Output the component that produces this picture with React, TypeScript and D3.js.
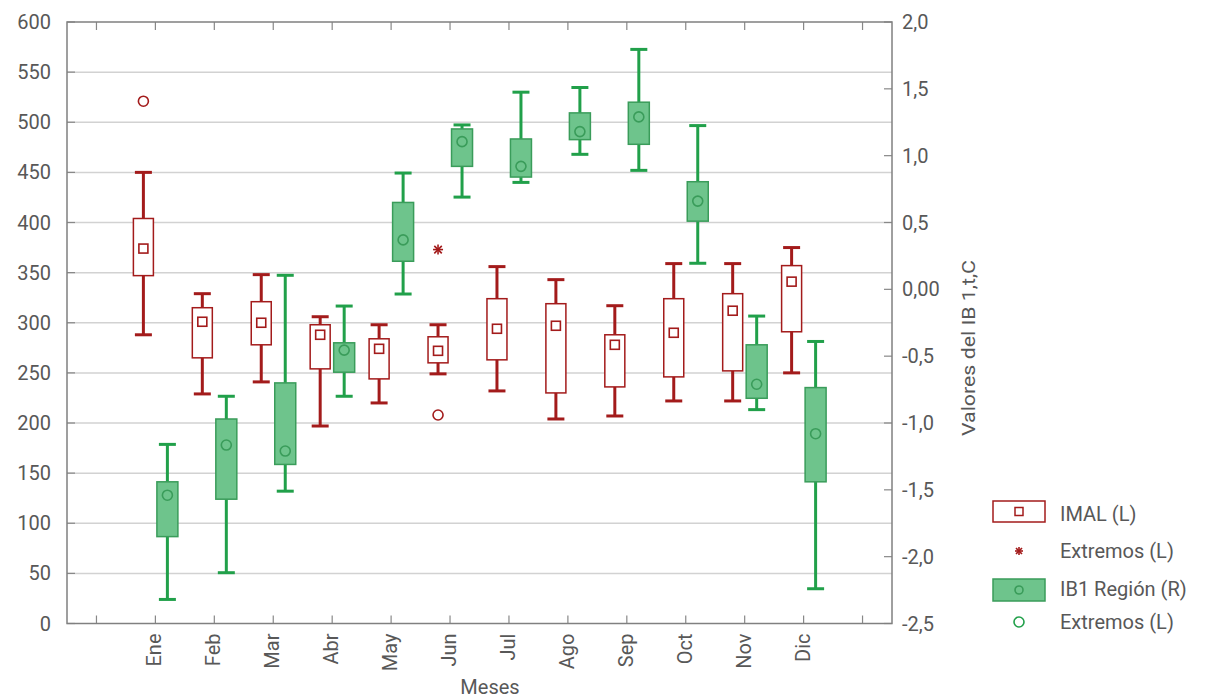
import React from 'react';
import * as d3 from 'd3';

const months = ['Ene', 'Feb', 'Mar', 'Abr', 'May', 'Jun', 'Jul', 'Ago', 'Sep', 'Oct', 'Nov', 'Dic'];

// IMAL (left axis)
const imalLow = [288, 229, 241, 197, 220, 249, 232, 204, 207, 222, 222, 250];
const imalQ1 = [347, 265, 278, 254, 244, 260, 263, 230, 236, 246, 252, 291];
const imalMean = [374, 301, 300, 288, 274, 272, 294, 297, 278, 290, 312, 341];
const imalQ3 = [404, 315, 321, 298, 284, 286, 324, 319, 288, 324, 329, 357];
const imalHigh = [450, 329, 348, 306, 298, 298, 356, 343, 317, 359, 359, 375];
const imalOutMonths = ['Ene', 'Jun'];
const imalOutValues = [521, 208];
const imalExtMonths = ['Jun'];
const imalExtValues = [373];

// IB1 Región (right axis)
const ibLow = [-2.32, -2.12, -1.51, -0.8, -0.035, 0.69, 0.8, 1.01, 0.89, 0.195, -0.9, -2.24];
const ibQ1 = [-1.85, -1.57, -1.31, -0.62, 0.21, 0.92, 0.84, 1.12, 1.085, 0.51, -0.815, -1.44];
const ibMean = [-1.54, -1.165, -1.21, -0.455, 0.37, 1.105, 0.92, 1.18, 1.29, 0.66, -0.71, -1.08];
const ibQ3 = [-1.44, -0.97, -0.7, -0.4, 0.65, 1.2, 1.125, 1.32, 1.4, 0.805, -0.415, -0.735];
const ibHigh = [-1.16, -0.8, 0.105, -0.125, 0.87, 1.23, 1.475, 1.51, 1.795, 1.225, -0.2, -0.39];

const leftTicks = [0, 50, 100, 150, 200, 250, 300, 350, 400, 450, 500, 550, 600];
const rightTicks = [2.0, 1.5, 1.0, 0.5, 0.0, -0.5, -1.0, -1.5, -2.0, -2.5];
const rightTickLabels = ['2,0', '1,5', '1,0', '0,5', '0,00', '-0,5', '-1,0', '-1,5', '-2,0', '-2,5'];

const W = 1216;
const H = 699;
const m = { left: 67, right: 892, top: 22, bottom: 623.5 };

const RED = '#a31b1b';
const GREEN = '#21a04a';
const GFILL = '#6ec48c';
const GSTROKE = '#3a9c5a';
const TXT = '#585858';
const FONT = 'Roboto, "Noto Sans", sans-serif';

const Star = ({ x, y, s = 4.5, color }: { x: number; y: number; s?: number; color: string }) => (
  <g stroke={color} strokeWidth={1.6}>
    <line x1={x - s} x2={x + s} y1={y} y2={y} />
    <line x1={x} x2={x} y1={y - s} y2={y + s} />
    <line x1={x - s * 0.75} x2={x + s * 0.75} y1={y - s * 0.75} y2={y + s * 0.75} />
    <line x1={x - s * 0.75} x2={x + s * 0.75} y1={y + s * 0.75} y2={y - s * 0.75} />
  </g>
);

export default function App() {
  const x = d3.scaleLinear().domain([-0.5, 13.5]).range([m.left, m.right]);
  const yL = d3.scaleLinear().domain([0, 600]).range([m.bottom, m.top]);
  const yR = d3.scaleLinear().domain([-2.5, 2.0]).range([m.bottom, m.top]);
  const xTicks = d3.range(0, 14);
  const off = 12;
  const bw = 20;
  const cap = 8.5;

  return (
    <svg width={W} height={H} style={{ position: 'absolute', left: 0, top: 0, background: '#fff' }} fontFamily={FONT}>
      {/* grid */}
      {leftTicks.filter(t => t > 0 && t < 600).map(t => (
        <line key={'g' + t} x1={m.left} x2={m.right} y1={yL(t)} y2={yL(t)} stroke="#d2d2d2" strokeWidth={1.5} />
      ))}
      {/* left ticks + labels */}
      {leftTicks.map(t => (
        <g key={'l' + t}>
          <line x1={m.left} x2={m.left + 8} y1={yL(t)} y2={yL(t)} stroke="#888" strokeWidth={1.2} />
          <text x={51} y={yL(t)} dy="0.35em" textAnchor="end" fontSize={20} fill={TXT}>{t}</text>
        </g>
      ))}
      {/* right ticks + labels */}
      {rightTicks.map((t, i) => (
        <g key={'r' + i}>
          <line x1={m.right - 8} x2={m.right} y1={yR(t)} y2={yR(t)} stroke="#888" strokeWidth={1.2} />
          <text x={902} y={yR(t)} dy="0.35em" textAnchor="start" fontSize={20} fill={TXT}>{rightTickLabels[i]}</text>
        </g>
      ))}
      {/* x ticks top & bottom */}
      {xTicks.map(t => (
        <g key={'x' + t}>
          <line x1={x(t)} x2={x(t)} y1={m.top} y2={m.top + 8} stroke="#888" strokeWidth={1.2} />
          <line x1={x(t)} x2={x(t)} y1={m.bottom} y2={m.bottom - 8} stroke="#888" strokeWidth={1.2} />
        </g>
      ))}
      {months.map((mo, i) => (
        <text key={'ml' + mo} transform={`translate(${x(i + 1) + 6},${m.bottom + 10}) rotate(-90)`}
          textAnchor="end" fontSize={20} fill={TXT}>{mo}</text>
      ))}

      {/* IMAL boxes */}
      {months.map((mo, i) => {
        const cx = x(i + 1) - off;
        return (
          <g key={'imal' + mo}>
            <line x1={cx} x2={cx} y1={yL(imalHigh[i])} y2={yL(imalQ3[i])} stroke={RED} strokeWidth={3} />
            <line x1={cx} x2={cx} y1={yL(imalQ1[i])} y2={yL(imalLow[i])} stroke={RED} strokeWidth={3} />
            <line x1={cx - cap} x2={cx + cap} y1={yL(imalHigh[i])} y2={yL(imalHigh[i])} stroke={RED} strokeWidth={3} />
            <line x1={cx - cap} x2={cx + cap} y1={yL(imalLow[i])} y2={yL(imalLow[i])} stroke={RED} strokeWidth={3} />
            <rect x={cx - bw / 2} y={yL(imalQ3[i])} width={bw} height={yL(imalQ1[i]) - yL(imalQ3[i])}
              fill="#fff" stroke={RED} strokeWidth={1.5} />
            <rect x={cx - 4.5} y={yL(imalMean[i]) - 4.5} width={9} height={9} fill="none" stroke={RED} strokeWidth={1.6} />
          </g>
        );
      })}
      {imalOutMonths.map((mo, i) => (
        <circle key={'o' + i} cx={x(months.indexOf(mo) + 1) - off} cy={yL(imalOutValues[i])} r={5}
          fill="#fff" stroke={RED} strokeWidth={1.6} />
      ))}
      {imalExtMonths.map((mo, i) => (
        <Star key={'s' + i} x={x(months.indexOf(mo) + 1) - off} y={yL(imalExtValues[i])} s={5} color={RED} />
      ))}

      {/* IB1 boxes */}
      {months.map((mo, i) => {
        const cx = x(i + 1) + off;
        return (
          <g key={'ib' + mo}>
            <line x1={cx} x2={cx} y1={yR(ibHigh[i])} y2={yR(ibQ3[i])} stroke={GREEN} strokeWidth={3} />
            <line x1={cx} x2={cx} y1={yR(ibQ1[i])} y2={yR(ibLow[i])} stroke={GREEN} strokeWidth={3} />
            <line x1={cx - cap} x2={cx + cap} y1={yR(ibHigh[i])} y2={yR(ibHigh[i])} stroke={GREEN} strokeWidth={3} />
            <line x1={cx - cap} x2={cx + cap} y1={yR(ibLow[i])} y2={yR(ibLow[i])} stroke={GREEN} strokeWidth={3} />
            <rect x={cx - 10.5} y={yR(ibQ3[i])} width={21} height={yR(ibQ1[i]) - yR(ibQ3[i])}
              fill={GFILL} stroke={GSTROKE} strokeWidth={1.5} />
            <circle cx={cx} cy={yR(ibMean[i])} r={5} fill="none" stroke={GSTROKE} strokeWidth={1.6} />
          </g>
        );
      })}

      {/* frame */}
      <rect x={m.left} y={m.top} width={m.right - m.left} height={m.bottom - m.top} fill="none" stroke="#808080" strokeWidth={1.5} />

      {/* axis titles */}
      <text x={490} y={694} textAnchor="middle" fontSize={20} fill={TXT}>Meses</text>
      <text transform={`translate(975,348) rotate(-90)`} textAnchor="middle" fontSize={19} fill={TXT}
        textLength={176} lengthAdjust="spacingAndGlyphs">Valores del IB 1,t,C</text>

      {/* legend */}
      <g>
        <rect x={993} y={501} width={52} height={21} fill="#fff" stroke={RED} strokeWidth={1.5} />
        <rect x={1015} y={507.5} width={8} height={8} fill="none" stroke={RED} strokeWidth={1.5} />
        <text x={1060} y={514} dy="0.35em" fontSize={20} fill={TXT}>IMAL (L)</text>
        <Star x={1019} y={551} s={4} color={RED} />
        <text x={1060} y={551} dy="0.35em" fontSize={20} fill={TXT}>Extremos (L)</text>
        <rect x={993} y={579} width={52} height={22} fill={GFILL} stroke={GSTROKE} strokeWidth={1.5} />
        <circle cx={1019} cy={590} r={4} fill="none" stroke={GSTROKE} strokeWidth={1.6} />
        <text x={1060} y={589} dy="0.35em" fontSize={20} fill={TXT}>IB1 Región (R)</text>
        <circle cx={1019} cy={622} r={5} fill="none" stroke={GREEN} strokeWidth={1.6} />
        <text x={1060} y={622} dy="0.35em" fontSize={20} fill={TXT}>Extremos (L)</text>
      </g>
    </svg>
  );
}
